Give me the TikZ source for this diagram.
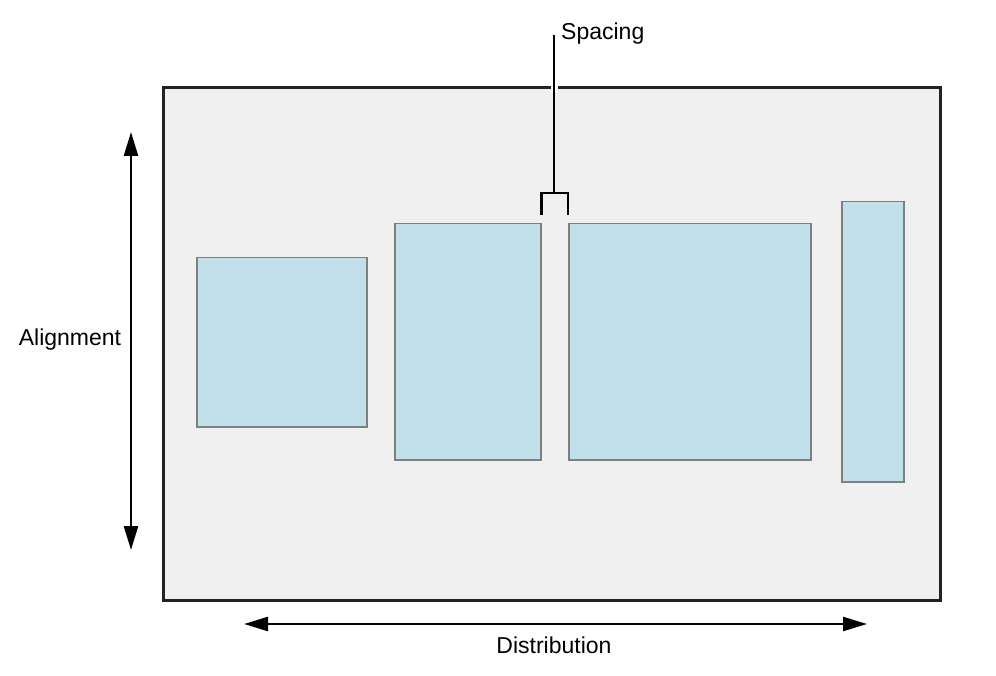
\documentclass[tikz,border=0pt]{standalone}
\usepackage{fontspec}
\setmainfont{Liberation Sans}
\usetikzlibrary{arrows.meta}
\definecolor{framefill}{HTML}{F0F0F0}
\definecolor{framedraw}{HTML}{222222}
\definecolor{boxfill}{HTML}{C2E0EA}
\definecolor{boxdraw}{HTML}{7F7F7F}
\begin{document}
\begin{tikzpicture}[x=1pt,y=-1pt,
  framebox/.style={draw=framedraw,fill=framefill,line width=3pt,anchor=north west,inner sep=0pt},
  bluebox/.style={draw=boxdraw,fill=boxfill,line width=1.5pt,anchor=north west,inner sep=0pt},
  dimarrow/.style={line width=2.5pt,{Triangle[length=24pt,width=14pt]}-{Triangle[length=24pt,width=14pt]}},
  lbl/.style={font=\fontsize{23}{27}\selectfont,inner sep=0pt},
  bracketline/.style={line width=2.3pt,black}]
\useasboundingbox (0,0) rectangle (996,676);
\node[framebox,minimum width=777pt,minimum height=513pt] (frame) at (162,86) {};
\node[bluebox,minimum width=170pt,minimum height=169pt] (b1) at (196,257) {};
\node[bluebox,minimum width=146pt,minimum height=236pt] (b2) at (394,223) {};
\node[bluebox,minimum width=242pt,minimum height=236pt] (b3) at (568,223) {};
\node[bluebox,minimum width=62pt,minimum height=280pt] (b4) at (841,201) {};
% arrows
\coordinate (atop) at (131,132);
\coordinate (abot) at (131,550);
\draw[dimarrow] (atop) -- (abot);
\coordinate (dleft) at (244,624);
\coordinate (dright) at (867,624);
\draw[dimarrow] (dleft) -- (dright);
\node[lbl] (align) at (70,340) {Alignment};
\node[lbl] (distr) at (554,645) {Distribution};
% spacing bracket
\coordinate (bl) at ([yshift=-8pt]b2.north east);
\coordinate (br) at ([yshift=-8pt]b3.north west);
\coordinate (bmid) at (554,193);
\coordinate (stop) at (554,35);
\node[lbl,anchor=west] (spacing) at (561,34) {Spacing};
\draw[white,line width=7pt] (554,80) -- (554,92);
\draw[bracketline] (bl |- 0,215) -- (bl |- bmid) -- (br |- bmid) -- (br |- 0,215);
\draw[bracketline] (bmid) -- (stop);
\end{tikzpicture}
\end{document}
